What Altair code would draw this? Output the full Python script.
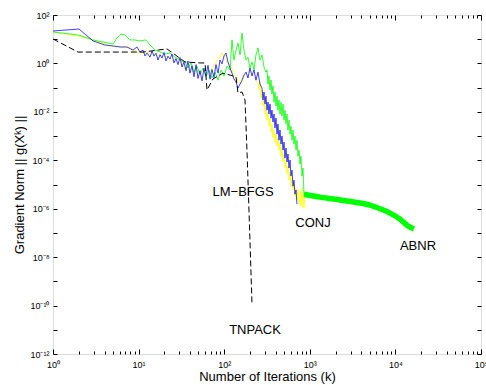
import altair as alt
import pandas as pd

# ---- data: (log10 k, log10 ||g||) pairs ----
TNPACK = [(0.000, 1.01), (0.292, 0.47), (0.549, 0.47), (1.051, 0.47), (1.332, 0.60),
          (1.542, 0.06), (1.717, 0.02), (1.776, 0.02), (1.799, -1.10), (1.869, -0.64),
          (1.986, -0.40), (2.068, -0.48), (2.138, -0.56), (2.161, -1.22), (2.208, -1.18),
          (2.243, -1.51), (2.266, -3.58), (2.301, -7.30), (2.325, -9.98)]

LMBFGS = [(0.000, 1.34), (0.304, 1.42), (0.467, 0.93), (0.607, 0.76), (0.701, 0.72),
          (0.783, 0.68), (0.864, 0.68), (0.935, 0.55), (0.981, 0.68), (1.016, 0.47),
          (1.051, 0.55), (1.075, 0.31), (1.098, 0.43), (1.133, 0.26), (1.157, 0.51),
          (1.180, 0.30), (1.203, 0.42), (1.227, 0.14), (1.250, 0.36), (1.273, 0.22),
          (1.297, 0.45), (1.320, 0.10), (1.343, 0.30), (1.367, 0.18), (1.390, 0.39),
          (1.413, 0.02), (1.437, 0.20), (1.460, -0.05), (1.484, 0.25), (1.507, -0.15),
          (1.530, 0.05), (1.554, -0.30), (1.577, 0.10), (1.600, -0.40), (1.624, -0.10),
          (1.647, -0.55), (1.671, -0.05), (1.694, -0.62), (1.717, -0.30), (1.741, -0.72),
          (1.764, -0.20), (1.787, -0.50), (1.811, -0.08), (1.834, -0.65), (1.857, -0.25),
          (1.881, -0.58), (1.904, -0.05), (1.928, -0.40), (1.951, 0.14), (1.974, -0.02),
          (1.998, 0.31), (2.021, 0.43), (2.044, 0.06), (2.068, -0.19), (2.091, -0.40),
          (2.114, -0.64), (2.138, -0.77), (2.161, -1.02), (2.185, -0.85), (2.208, -0.69),
          (2.231, -0.48), (2.255, -0.36), (2.278, -0.60), (2.301, -0.19), (2.325, -0.52),
          (2.348, -0.27), (2.371, -0.69), (2.395, -0.36), (2.418, -0.85), (2.442, -1.02),
          (2.453, -1.51), (2.465, -1.18), (2.477, -1.68), (2.488, -1.35), (2.500, -1.93),
          (2.512, -1.60), (2.523, -2.09), (2.535, -1.68), (2.547, -2.26), (2.558, -1.93),
          (2.570, -2.42), (2.582, -2.09), (2.593, -2.67), (2.605, -2.26), (2.617, -2.92),
          (2.628, -2.50), (2.640, -3.17), (2.652, -2.75), (2.664, -3.33), (2.675, -3.00),
          (2.687, -3.58), (2.699, -3.25), (2.710, -3.91), (2.722, -3.50), (2.734, -4.07),
          (2.745, -3.74), (2.757, -4.32), (2.769, -3.99), (2.780, -4.65), (2.792, -4.41),
          (2.804, -5.07), (2.815, -4.82), (2.827, -5.40), (2.839, -5.23), (2.850, -5.81)]

CONJ = [(0.000, 1.30), (0.304, 1.13), (0.467, 0.97), (0.643, 0.76), (0.783, 0.68),
        (0.900, 0.64), (0.981, 0.47), (1.075, 0.43), (1.133, 0.47), (1.215, 0.35),
        (1.285, 0.31), (1.343, 0.26), (1.402, 0.14), (1.460, 0.22), (1.519, -0.07),
        (1.554, -0.27), (1.577, -0.11), (1.624, -0.36), (1.671, -0.19), (1.717, -0.48),
        (1.764, -0.27), (1.811, -0.44), (1.857, -0.19), (1.904, 0.06), (1.951, 0.26),
        (1.974, 0.43), (1.998, 0.22), (2.044, 0.02), (2.091, -0.19), (2.126, -0.48),
        (2.161, -0.69), (2.196, -0.85), (2.231, -0.60), (2.266, -0.36), (2.301, -0.27),
        (2.336, -0.48), (2.371, -0.69), (2.395, -0.85), (2.406, -1.10), (2.418, -0.77),
        (2.430, -1.43), (2.442, -1.10), (2.453, -1.76), (2.465, -1.43), (2.477, -2.09),
        (2.488, -1.76), (2.500, -2.34), (2.512, -2.01), (2.523, -2.59), (2.535, -2.26),
        (2.547, -2.83), (2.558, -2.50), (2.570, -3.08), (2.582, -2.75), (2.593, -3.25),
        (2.605, -2.92), (2.617, -3.41), (2.628, -3.08), (2.640, -3.58), (2.652, -3.25),
        (2.664, -3.83), (2.675, -3.50), (2.687, -4.07), (2.699, -3.74), (2.710, -4.32),
        (2.722, -3.99), (2.734, -4.57), (2.745, -4.24), (2.757, -4.82), (2.769, -4.49),
        (2.780, -5.07), (2.792, -4.74), (2.804, -5.23), (2.815, -4.98), (2.827, -5.48),
        (2.839, -5.15), (2.850, -5.64), (2.862, -5.23), (2.874, -5.81), (2.886, -5.31),
        (2.897, -5.89), (2.909, -5.15), (2.921, -5.98), (2.932, -5.40), (2.944, -5.98)]

ABNR = [(0.000, 1.30), (0.304, 1.17), (0.467, 0.97), (0.701, 0.80), (0.748, 1.05),
        (0.794, 1.21), (0.841, 1.17), (0.900, 0.97), (0.958, 0.97), (1.016, 0.93),
        (1.086, 0.97), (1.133, 0.76), (1.192, 0.55), (1.250, 0.47), (1.308, 0.39),
        (1.367, 0.43), (1.425, 0.26), (1.484, 0.14), (1.542, 0.06), (1.577, -0.19),
        (1.612, 0.02), (1.647, -0.36), (1.682, -0.11), (1.717, -0.44), (1.752, -0.19),
        (1.787, -0.56), (1.822, -0.27), (1.857, -0.60), (1.893, -0.36), (1.928, -0.69),
        (1.963, -0.27), (1.998, -0.52), (2.033, -0.11), (2.068, -0.27), (2.091, 0.97),
        (2.114, 0.14), (2.138, 0.55), (2.161, 0.84), (2.185, 0.35), (2.208, 1.26),
        (2.231, 0.55), (2.255, 0.14), (2.278, 0.26), (2.301, -0.19), (2.325, 0.06),
        (2.348, -0.27), (2.371, 0.35), (2.395, 0.64), (2.418, 0.14), (2.442, 0.35),
        (2.465, -0.15), (2.488, -0.36), (2.500, -0.27), (2.512, -0.85), (2.523, -0.52),
        (2.535, -1.10), (2.547, -0.69), (2.558, -1.26), (2.570, -0.93), (2.582, -1.60),
        (2.593, -1.18), (2.605, -1.76), (2.617, -1.35), (2.628, -1.93), (2.640, -1.51),
        (2.652, -2.09), (2.664, -1.60), (2.675, -2.17), (2.687, -1.68), (2.699, -2.34),
        (2.710, -1.93), (2.722, -2.50), (2.734, -2.09), (2.745, -2.75), (2.757, -2.34),
        (2.769, -2.92), (2.780, -2.59), (2.792, -3.17), (2.804, -2.75), (2.815, -3.33),
        (2.827, -3.00), (2.839, -3.58), (2.850, -3.17), (2.862, -3.83), (2.874, -3.58),
        (2.886, -4.16), (2.897, -3.83), (2.909, -4.65), (2.921, -4.32), (2.932, -5.40)]

ABNR_TAIL = [(2.932, -5.40), (3.119, -5.52), (3.353, -5.64), (3.528, -5.73),
             (3.703, -5.85), (3.820, -6.00), (3.937, -6.18), (4.054, -6.43),
             (4.135, -6.68), (4.217, -6.84)]

LABEL_TEXT = ["LM\u2212BFGS", "CONJ", "ABNR", "TNPACK"]
LABEL_K = [166, 1090, 18360, 229]
LABEL_G = [4.9e-6, 2.6e-7, 2.8e-8, 1.0e-11]

X_LABEL_EXP = [0, 1, 2, 3, 4, 5]
Y_LABEL_EXP = [2, 0, -2, -4, -6, -8, -10, -12]
Y_TICK_EXP = list(range(-12, 3))
X_MINOR_MULT = [2, 3, 4, 5, 6, 7, 8, 9]

FONT = "Liberation Sans"
SUP = str.maketrans("0123456789-", "\u2070\u00b9\u00b2\u00b3\u2074\u2075\u2076\u2077\u2078\u2079\u207b")


def frame(pairs):
    return pd.DataFrame({"k": [10 ** a for a, b in pairs],
                         "g": [10 ** b for a, b in pairs],
                         "i": list(range(len(pairs)))})


def label_expr(exps):
    parts = [f"round(log(datum.value)/LN10) == {e} ? '10{str(e).translate(SUP)}'" for e in exps]
    return " : ".join(parts) + " : ''"


xs = alt.Scale(type="log", domain=[1, 1e5], nice=False)
ys = alt.Scale(type="log", domain=[1e-12, 1e2], nice=False)


def line(pairs, color, width=0.8, dash=None, interp=None):
    kw = dict(color=color, strokeWidth=width, clip=True)
    if dash:
        kw["strokeDash"] = dash
    if interp:
        kw["interpolate"] = interp
    return alt.Chart(frame(pairs)).mark_line(**kw).encode(
        x=alt.X("k:Q", scale=xs, axis=None),
        y=alt.Y("g:Q", scale=ys, axis=None),
        order="i:Q",
    )


dummy = pd.DataFrame({"k": [1, 1e5], "g": [1e-12, 1e2]})

axes_layer = alt.Chart(dummy).mark_point(opacity=0).encode(
    x=alt.X("k:Q", scale=xs, axis=alt.Axis(
        orient="bottom", values=[10.0 ** e for e in X_LABEL_EXP],
        labelExpr=label_expr(X_LABEL_EXP), ticks=False, domain=False, grid=False,
        labelFont=FONT, labelFontSize=9, labelColor="black", labelPadding=6,
        labelFlush=False, labelOverlap=False,
        title="Number of Iterations (k)", titleFont=FONT, titleFontSize=13,
        titleFontWeight="normal", titleColor="black", titlePadding=1)),
    y=alt.Y("g:Q", scale=ys, axis=alt.Axis(
        orient="left", values=[10.0 ** e for e in Y_LABEL_EXP],
        labelExpr=label_expr(Y_LABEL_EXP), ticks=False, domain=False, grid=False,
        labelFont=FONT, labelFontSize=9, labelColor="black", labelPadding=4,
        labelFlush=False, labelOverlap=False,
        title="Gradient Norm || g(X\u1d4f) ||", titleFont=FONT, titleFontSize=13,
        titleFontWeight="normal", titleColor="black", titlePadding=3)),
)


def tick_axis(orient, vals, size):
    return alt.Axis(orient=orient, values=vals, labels=False, domain=False, grid=False,
                    ticks=True, tickSize=size, offset=-size, tickColor="black",
                    tickWidth=1, title=None)


x_major = [10.0 ** e for e in X_LABEL_EXP]
x_minor = [m * 10.0 ** e for e in X_LABEL_EXP[:-1] for m in X_MINOR_MULT]
y_major = [10.0 ** e for e in Y_TICK_EXP]


def tick_layer(xorient, yorient, xvals, xsize, yvals=None, ysize=4):
    yaxis = tick_axis(yorient, yvals, ysize) if yvals else None
    return alt.Chart(dummy).mark_point(opacity=0).encode(
        x=alt.X("k:Q", scale=xs, axis=tick_axis(xorient, xvals, xsize)),
        y=alt.Y("g:Q", scale=ys, axis=yaxis),
    )


t1 = tick_layer("bottom", "left", x_major, 5, y_major, 4)
t2 = tick_layer("top", "right", x_major, 5, y_major, 4)
t3 = tick_layer("bottom", "left", x_minor, 3)
t4 = tick_layer("top", "right", x_minor, 3)

labels_df = pd.DataFrame({"k": LABEL_K, "g": LABEL_G, "t": LABEL_TEXT})
labels = alt.Chart(labels_df).mark_text(font=FONT, fontSize=13, color="black",
                                         align="center", baseline="middle").encode(
    x=alt.X("k:Q", scale=xs, axis=None),
    y=alt.Y("g:Q", scale=ys, axis=None),
    text="t:N",
)

chart = alt.layer(
    axes_layer, t1, t2, t3, t4,
    line(CONJ, "#ffff00"),
    line(ABNR, "#00ff00"),
    line(ABNR_TAIL, "#00ff00", width=5.5, interp="monotone"),
    line(LMBFGS, "#1010ff"),
    line(TNPACK, "black", width=1.0, dash=[6, 3]),
    labels,
).resolve_axis(x="independent", y="independent").properties(
    width=428, height=339,
    padding={"left": 53, "top": 15, "right": 5, "bottom": 31},
    autosize=alt.AutoSizeParams(type="none"),
).configure_view(stroke="black", strokeWidth=1.2).configure(background="white")

chart.save("out.html", embed_options={"renderer": "svg", "actions": False})
